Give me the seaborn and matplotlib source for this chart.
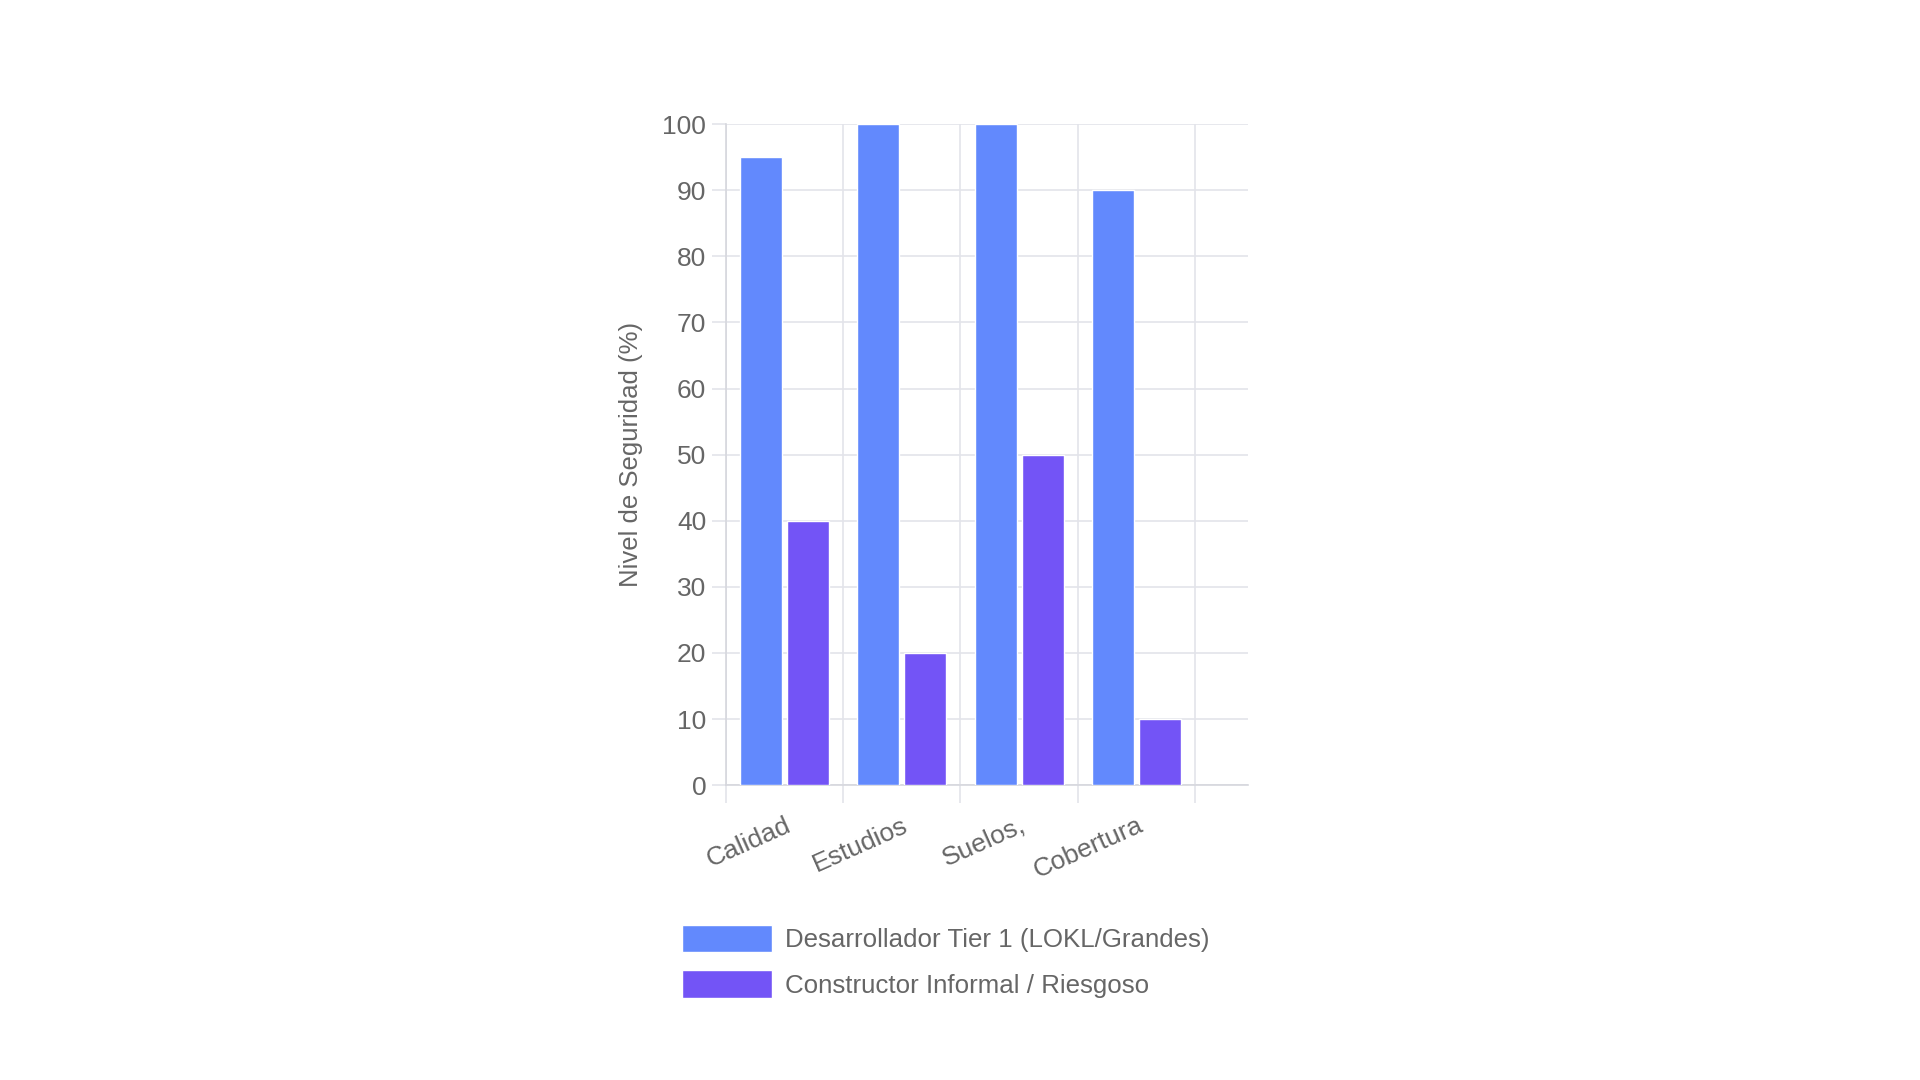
import pandas as pd
import seaborn as sns
import matplotlib.pyplot as plt

categorias = ["Calidad", "Estudios", "Suelos,", "Cobertura"]
serie_tier1 = [95, 100, 100, 90]
serie_informal = [40, 20, 50, 10]
nombre_tier1 = "Desarrollador Tier 1 (LOKL/Grandes)"
nombre_informal = "Constructor Informal / Riesgoso"
y_ticks = [0, 10, 20, 30, 40, 50, 60, 70, 80, 90, 100]

###
def prepareData():
    rows = []
    for cat, a, b in zip(categorias, serie_tier1, serie_informal):
        rows.append({"categoria": cat, "serie": nombre_tier1, "valor": a})
        rows.append({"categoria": cat, "serie": nombre_informal, "valor": b})
    return pd.DataFrame(rows)

###
def plotChart(df):
    sns.set_theme(style="white")
    plt.rcParams['font.family'] = ['Liberation Sans', 'DejaVu Sans']

    fig = plt.figure(figsize=(19.2, 10.8), dpi=100)
    ax = fig.add_axes([0.378, 0.273, 0.272, 0.612])

    palette = {nombre_tier1: "#6289fd", nombre_informal: "#7354f6"}
    sns.barplot(data=df, x="categoria", y="valor", hue="serie", palette=palette,
                width=0.8, gap=0.1, saturation=1, ax=ax, legend=True, zorder=3)

    grid_c = "#e3e4ea"
    ax.set_ylim(0, 100)
    ax.set_xlim(-0.5, 3.95)
    ax.set_yticks(y_ticks)
    ax.set_xticks([-0.5, 0.5, 1.5, 2.5, 3.5], minor=True)
    ax.yaxis.grid(True, color=grid_c, linewidth=1.2, zorder=0)
    ax.xaxis.grid(True, which="minor", color=grid_c, linewidth=1.2, zorder=0)
    ax.tick_params(axis="x", which="major", bottom=False, length=0, pad=20)
    ax.tick_params(axis="x", which="minor", bottom=True, length=13, color=grid_c, width=1.2)
    ax.tick_params(axis="y", left=True, length=10, color=grid_c, width=1.2, labelsize=19,
                   labelcolor="#666666", pad=4)
    plt.setp(ax.get_xticklabels(), rotation=24, ha="right", rotation_mode="anchor",
             fontsize=19, color="#666666")
    for side in ["top", "right"]:
        ax.spines[side].set_visible(False)
    for side in ["left", "bottom"]:
        ax.spines[side].set_color("#d6d7dd")
        ax.spines[side].set_linewidth(1.2)
    ax.set_xlabel("")
    ax.set_ylabel("Nivel de Seguridad (%)", fontsize=18.5, color="#666666", labelpad=14)

    handles, labels = ax.get_legend_handles_labels()
    ax.get_legend().remove()
    fig.legend(handles, labels, loc="upper left", bbox_to_anchor=(0.343, 0.165),
               frameon=False, fontsize=18.6, handlelength=3.5, handleheight=1.25,
               handletextpad=0.5, labelspacing=0.7, labelcolor="#666666")

    fig.savefig("out.png", dpi=100, facecolor="white")

###
if __name__ == '__main__':
    df = prepareData()
    plotChart(df)
